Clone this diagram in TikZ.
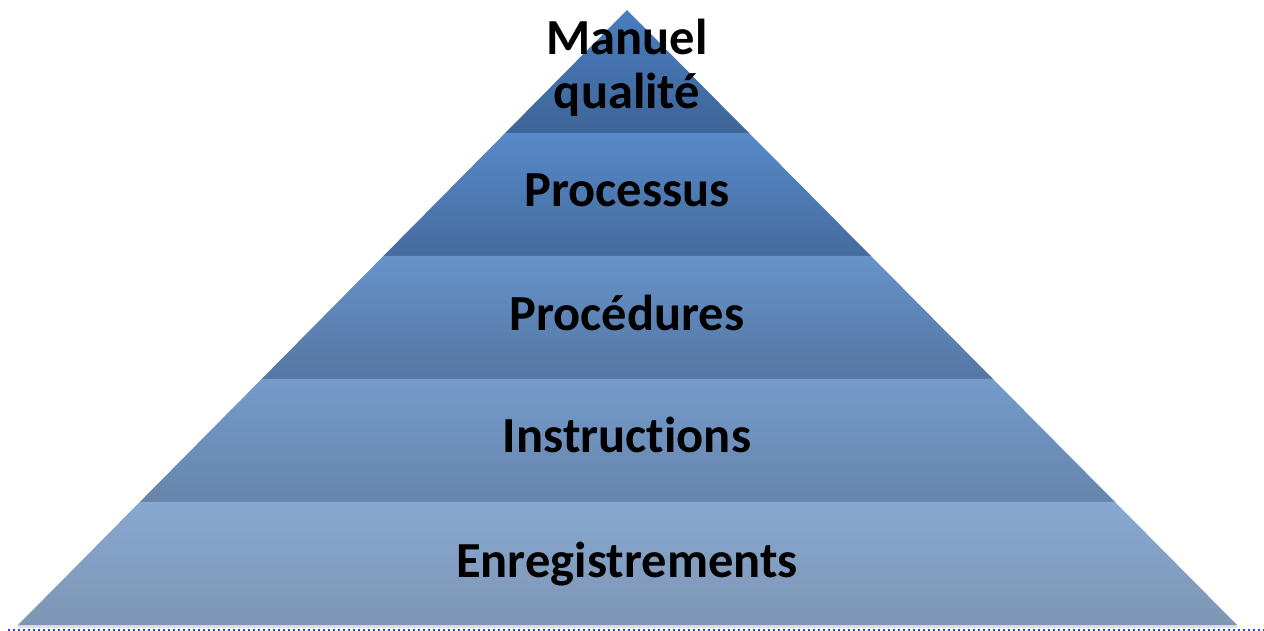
\documentclass[tikz,border=0pt]{standalone}
\usepackage{fontspec}
\setmainfont{Carlito}[Ligatures={NoCommon}]
\usetikzlibrary{calc}
\definecolor{c1t}{HTML}{4A7DC0}
\definecolor{c1b}{HTML}{3E6598}
\definecolor{c2t}{HTML}{5789C8}
\definecolor{c2b}{HTML}{456B9E}
\definecolor{c3t}{HTML}{6693C9}
\definecolor{c3b}{HTML}{5576A3}
\definecolor{c4t}{HTML}{749BCB}
\definecolor{c4b}{HTML}{6685AC}
\definecolor{c5t}{HTML}{87A8D1}
\definecolor{c5b}{HTML}{7E96B4}
\definecolor{dotblue}{HTML}{2A3CFF}
\begin{document}
\begin{tikzpicture}[x=1pt,y=-1pt,
  lbl/.style={font=\fontsize{50.5}{53}\selectfont\bfseries, inner sep=0pt, anchor=base, text=black}]
\useasboundingbox (0,0) rectangle (1264,631);
\coordinate (A) at (627,10);
\coordinate (BL) at (18,625);
\coordinate (BR) at (1237,625);
\foreach \i in {1,...,5}{
  \coordinate (L\i) at ($(A)!\i/5!(BL)$);
  \coordinate (R\i) at ($(A)!\i/5!(BR)$);
}
% base shadow
\fill[black!12] (18,625) rectangle (1237,628);
\shade[top color=c1t, bottom color=c1b] (A) -- (R1) -- (L1) -- cycle;
\shade[top color=c2t, bottom color=c2b] (L1) -- (R1) -- (R2) -- (L2) -- cycle;
\shade[top color=c3t, bottom color=c3b] (L2) -- (R2) -- (R3) -- (L3) -- cycle;
\shade[top color=c4t, bottom color=c4b] (L3) -- (R3) -- (R4) -- (L4) -- cycle;
\shade[top color=c5t, bottom color=c5b] (L4) -- (R4) -- (R5) -- (L5) -- cycle;
% dotted line
\draw[dotblue, line width=1.6pt, dash pattern=on 1.6pt off 3.4pt] (8,630) -- (1264,630);
% labels
\node[lbl] (manuel) at (627,55) {Manuel};
\node[lbl] (qualite) at (627,109) {qualité};
\node[lbl] (processus) at (627,207) {Processus};
\node[lbl] (procedures) at (627,330) {Procédures};
\node[lbl] (instructions) at (627,452) {Instructions};
\node[lbl] (enreg) at (627,577) {Enregistrements};
\end{tikzpicture}
\end{document}
